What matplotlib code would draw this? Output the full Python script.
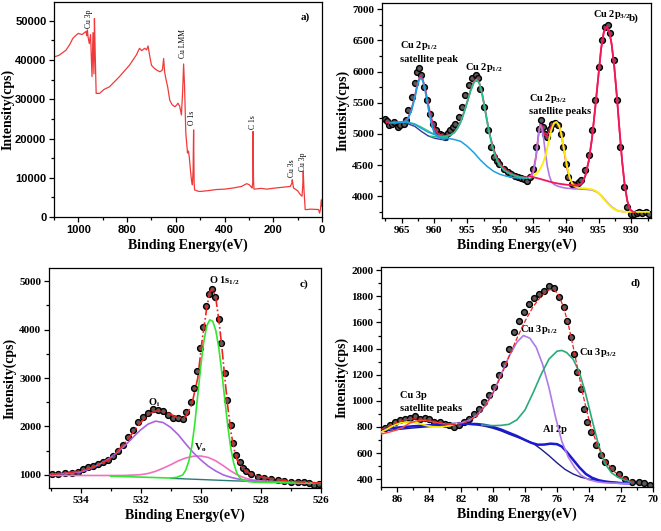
import matplotlib
matplotlib.use('Agg')
import matplotlib.pyplot as plt
from matplotlib.ticker import MultipleLocator

plt.rcParams['font.family'] = ['Liberation Serif', 'DejaVu Serif']
plt.rcParams['font.weight'] = 'bold'
plt.rcParams['mathtext.fontset'] = 'custom'
plt.rcParams['mathtext.rm'] = 'Liberation Serif:bold'
plt.rcParams['mathtext.it'] = 'Liberation Serif:bold'
plt.rcParams['mathtext.bf'] = 'Liberation Serif:bold'

# ---- a) survey spectrum ----
survey_be = [1100, 1080, 1051, 1035, 1023, 1010, 1000, 985, 975, 968, 966, 963, 960, 955, 950, 944,
             940, 936, 934, 931, 927, 913, 895, 872, 850, 831, 810, 790, 775, 762, 749, 740,
             728, 720, 714, 707, 700, 690, 680, 665, 655, 650, 646, 641, 633, 625, 615, 604,
             597, 591, 584, 577, 572, 568, 564, 559, 552, 548, 545, 540, 536, 532, 529, 527,
             525, 523, 510, 501, 470, 433, 400, 364, 330, 309, 298, 290, 287, 284, 283, 281,
             279, 250, 227, 190, 158, 130, 124, 122, 119, 117, 100, 89, 82, 79, 77, 74,
             69, 60, 48, 30, 14, 10, 6, 3, 0]
survey_counts = [40800, 41200, 42500, 44000, 45500, 46300, 46800, 46500, 47000, 47300, 46200, 47700, 45800, 44200, 46500, 35800,
                 47000, 36500, 50600, 42000, 31500, 31500, 32500, 33200, 34600, 35800, 37300, 38700, 40100, 41300, 43000, 42400,
                 43000, 42600, 43600, 41000, 38700, 38000, 37500, 37000, 37500, 40400, 37000, 35300, 33000, 29800, 28600, 28100,
                 28500, 29000, 28200, 26000, 32000, 39000, 33000, 21400, 16300, 16800, 15400, 12000, 9500, 8200, 12000, 22200,
                 9000, 6900, 6600, 6500, 6700, 7000, 7100, 7400, 7800, 8500, 8200, 7600, 7400, 9000, 21800, 9000,
                 7100, 7300, 7100, 7400, 7600, 7800, 8600, 9500, 8200, 7400, 6700, 5700, 5300, 8000, 11600, 7000,
                 1900, 1900, 2000, 1950, 1900, 1000, 2000, 4400, 2700]

# ---- b) Cu 2p ----
cu2p_be = [967.5, 967.2, 966.9, 966.5, 966.1, 965.6, 965.2, 964.7, 964.3, 964.0, 963.5, 963.0, 962.6, 962.3, 962.0,
           961.6, 961.2, 960.7, 960.2, 959.7, 959.2, 958.9, 958.4, 958.0, 957.6, 957.2, 956.8, 956.3, 955.8, 955.3,
           954.8, 954.3, 953.7, 953.4, 953.0, 952.5, 951.9, 951.4, 950.9, 950.5, 950.1, 949.4, 948.8, 948.3, 947.8,
           947.3, 946.8, 946.3, 945.9, 945.5, 945.0, 944.5, 944.1, 943.8, 943.5, 943.1, 942.8, 942.4, 942.1, 941.7,
           941.2, 940.7, 940.4, 940.0, 939.6, 939.1, 938.7, 938.3, 937.9, 937.6, 937.0, 936.5, 936.0, 935.5, 935.0,
           934.5, 934.0, 933.6, 933.2, 932.7, 932.2, 931.7, 931.1, 930.6, 930.1, 929.6, 929.2, 928.8, 928.3, 927.8,
           927.3]
cu2p_counts = [5245, 5200, 5138, 5165, 5190, 5110, 5140, 5165, 5218, 5380, 5594, 5810, 5996, 6050, 5943,
               5755, 5540, 5326, 5165, 5057, 5000, 4977, 4950, 5010, 5057, 5110, 5165, 5272, 5433, 5620,
               5782, 5889, 5943, 5889, 5728, 5433, 5057, 4789, 4628, 4560, 4520, 4440, 4390, 4360, 4320,
               4306, 4290, 4279, 4250, 4306, 4440, 4789, 5084, 5218, 5110, 5004, 4950, 5084, 5165, 5175,
               5138, 5004, 4789, 4520, 4306, 4199, 4180, 4199, 4230, 4252, 4413, 4655, 5057, 5540, 6077,
               6506, 6721, 6748, 6614, 6184, 5540, 4789, 4145, 3823, 3716, 3716, 3730, 3742, 3730, 3742,
               3716]

env_b_be = [967.3, 965.0, 964.5, 964.0, 963.5, 963.0, 962.6, 962.2, 961.8, 961.4, 961.0, 960.5, 960.0, 959.5,
            959.0, 958.5, 958.0, 957.5, 957.0, 956.5, 956.0, 955.5, 955.0, 954.5, 954.0, 953.6, 953.2, 952.8,
            952.4, 952.0, 951.5, 951.0, 950.5, 950.0, 949.0, 948.0, 947.0, 946.0, 945.5, 945.0, 944.5, 944.2,
            943.9, 943.6, 943.3, 943.0, 942.6, 942.2, 941.8, 941.4, 941.0, 940.6, 940.2, 939.8, 939.4, 939.0,
            938.5, 938.0, 937.5, 937.0, 936.5, 936.0, 935.5, 935.0, 934.6, 934.2, 933.8, 933.4, 933.0, 932.6,
            932.2, 931.8, 931.4, 931.0, 930.6, 930.2, 929.8, 929.4]
env_b_counts = [5180, 5185, 5200, 5260, 5400, 5600, 5800, 5930, 5880, 5720, 5500, 5260, 5090, 5010,
                4975, 4970, 4975, 4990, 5020, 5090, 5200, 5350, 5520, 5700, 5840, 5880, 5830, 5680,
                5460, 5220, 4960, 4760, 4620, 4520, 4410, 4350, 4310, 4300, 4310, 4380, 4650, 4950,
                5150, 5120, 5000, 4960, 5020, 5120, 5180, 5190, 5130, 4960, 4700, 4450, 4290, 4210,
                4180, 4175, 4210, 4330, 4560, 4920, 5420, 5950, 6370, 6630, 6720, 6660, 6440, 6080,
                5600, 5060, 4560, 4170, 3920, 3790, 3750, 3745]

bg_b_be = [966.8, 965.0, 964.0, 963.0, 962.0, 961.0, 960.0, 959.0, 958.0, 957.0, 956.0, 955.0, 954.0, 953.0,
           952.0, 951.0, 950.0, 949.0, 948.0, 947.0, 946.0, 945.5]
bg_b_counts = [5180, 5185, 5185, 5150, 5090, 5030, 4990, 4960, 4930, 4910, 4880, 4800, 4700, 4580,
               4480, 4400, 4350, 4320, 4300, 4290, 4290, 4290]
bg_b2_be = [964.5, 964.0, 963.0, 962.0, 961.0, 960.0, 959.0, 958.5, 958.0]
bg_b2_counts = [5190, 5188, 5160, 5110, 5050, 4990, 4950, 4940, 4935]
bg_b3_be = [964.5, 963.0, 962.0, 961.0, 960.0, 959.0, 958.0]
bg_b3_counts = [5180, 5120, 5040, 4970, 4930, 4910, 4900]

sat1_be = [966.8, 965.5, 964.5, 964.0, 963.5, 963.0, 962.7, 962.4, 962.1, 961.8, 961.5, 961.2, 960.9, 960.6,
           960.3, 960.0, 959.5, 959.0, 958.5]
sat1_counts = [5180, 5185, 5200, 5250, 5380, 5580, 5730, 5850, 5900, 5860, 5740, 5570, 5390, 5230,
               5100, 5020, 4960, 4930, 4915]

p12_be = [960.5, 959.5, 958.5, 958.0, 957.5, 957.0, 956.5, 956.0, 955.5, 955.0, 954.5, 954.0, 953.6, 953.2,
          952.8, 952.4, 952.0, 951.6, 951.2, 950.8, 950.4, 950.0, 949.5, 949.0, 948.5, 948.0, 947.5, 947.0,
          946.5, 946.0]
p12_counts = [4960, 4950, 4955, 4965, 4985, 5020, 5090, 5190, 5340, 5510, 5690, 5820, 5870, 5820,
              5670, 5450, 5210, 4990, 4800, 4660, 4560, 4490, 4430, 4390, 4360, 4340, 4320, 4305,
              4300, 4295]

sat2_be = [945.5, 945.0, 944.7, 944.4, 944.1, 943.9, 943.7, 943.4, 943.1, 942.8, 942.5, 942.2, 941.8, 941.2,
           940.5, 940.0, 939.0, 938.0, 937.0, 936.0, 935.5, 935.0, 934.5, 934.0, 933.5, 933.0, 932.5, 932.0,
           931.5, 931.0]
sat2_counts = [4310, 4360, 4500, 4750, 5020, 5140, 5110, 4950, 4700, 4480, 4330, 4240, 4190, 4160,
               4140, 4130, 4120, 4115, 4110, 4100, 4080, 4050, 4000, 3940, 3880, 3830, 3790, 3765,
               3755, 3750]

sat3_be = [945.5, 945.0, 944.5, 944.0, 943.5, 943.0, 942.6, 942.2, 941.8, 941.4, 941.0, 940.6, 940.2, 939.8,
           939.4, 939.0, 938.5, 938.0, 937.0, 936.0, 935.5, 935.0, 934.5, 934.0, 933.5, 933.0, 932.5, 932.0,
           931.5, 931.0, 930.0, 929.0, 928.0, 927.3]
sat3_counts = [4300, 4320, 4360, 4420, 4520, 4680, 4880, 5060, 5170, 5190, 5130, 4960, 4720, 4480,
               4300, 4200, 4150, 4135, 4125, 4110, 4090, 4050, 3995, 3930, 3870, 3820, 3785, 3765,
               3755, 3750, 3748, 3748, 3748, 3748]

p32_be = [945.5, 944.0, 943.0, 942.0, 941.0, 940.0, 939.0, 938.3, 937.8, 937.4, 937.0, 936.5, 936.0, 935.5,
          935.0, 934.6, 934.2, 933.8, 933.4, 933.0, 932.6, 932.2, 931.8, 931.4, 931.0, 930.6, 930.2, 929.8,
          929.4]
p32_counts = [4320, 4280, 4250, 4220, 4200, 4185, 4175, 4170, 4185, 4230, 4330, 4560, 4920, 5420,
              5950, 6370, 6630, 6720, 6660, 6440, 6080, 5600, 5060, 4560, 4170, 3920, 3790, 3750,
              3745]

# ---- c) O 1s ----
o1s_be = [534.96, 534.74, 534.52, 534.30, 534.08, 533.91, 533.75, 533.58, 533.41, 533.25, 533.08, 532.92,
          532.75, 532.58, 532.42, 532.25, 532.09, 531.92, 531.75, 531.59, 531.42, 531.26, 531.09, 530.92,
          530.76, 530.59, 530.48, 530.32, 530.21, 530.12, 530.04, 529.93, 529.82, 529.71, 529.62, 529.52,
          529.41, 529.32, 529.21, 529.12, 529.01, 528.93, 528.82, 528.71, 528.60, 528.49, 528.32, 528.10,
          527.88, 527.66, 527.44, 527.22, 527.00, 526.78, 526.56, 526.39, 526.22, 526.06]
o1s_counts = [1014, 1021, 1041, 1034, 1055, 1123, 1172, 1185, 1220, 1261, 1309, 1398,
              1494, 1617, 1789, 1926, 2098, 2201, 2269, 2358, 2338, 2324, 2235, 2180,
              2166, 2153, 2304, 2509, 2784, 3141, 3621, 4046, 4479, 4739, 4828, 4671,
              4225, 3731, 3093, 2544, 2029, 1652, 1412, 1274, 1151, 1082, 1014, 966,
              931, 918, 897, 877, 863, 849, 849, 828, 794, 808]

env_c_be = [535.0, 534.5, 534.0, 533.5, 533.0, 532.5, 532.0, 531.75, 531.5, 531.25, 531.0, 530.75, 530.5,
            530.3, 530.1, 529.95, 529.8, 529.7, 529.6, 529.5, 529.4, 529.3, 529.2, 529.1, 529.0, 528.9,
            528.8, 528.6, 528.4, 528.0, 527.5, 527.0, 526.5, 526.0]
env_c_counts = [1010, 1040, 1080, 1180, 1330, 1680, 2080, 2250, 2320, 2310, 2250, 2170, 2200,
                2450, 3000, 3800, 4450, 4780, 4830, 4650, 4200, 3650, 3000, 2400, 1900, 1550,
                1320, 1130, 1040, 960, 910, 870, 850, 830]

olat_be = [533.0, 532.5, 532.0, 531.5, 531.0, 530.8, 530.6, 530.5, 530.4, 530.3, 530.2, 530.1, 530.0, 529.9,
           529.8, 529.7, 529.6, 529.5, 529.4, 529.3, 529.2, 529.1, 529.0, 528.9, 528.8, 528.7, 528.6, 528.4,
           528.2, 528.0, 527.5, 527.0, 526.5, 526.0]
olat_counts = [975, 965, 955, 945, 935, 950, 1000, 1100, 1280, 1580, 2050, 2650, 3250, 3750,
               4080, 4200, 4170, 3980, 3620, 3120, 2550, 2000, 1550, 1230, 1040, 940, 890, 860,
               850, 845, 840, 835, 830, 825]

base_c_be = [531.0, 530.0, 529.0, 528.0, 527.0, 526.0]
base_c_counts = [930, 905, 880, 860, 845, 835]

oi_be = [535.0, 534.5, 534.0, 533.75, 533.5, 533.25, 533.0, 532.75, 532.5, 532.25, 532.0, 531.75, 531.5,
         531.25, 531.0, 530.75, 530.5, 530.25, 530.0, 529.75, 529.5, 529.25, 529.0, 528.75, 528.5, 528.0,
         527.5, 527.0, 526.5, 526.0]
oi_counts = [1010, 1030, 1060, 1110, 1180, 1260, 1360, 1480, 1620, 1780, 1930, 2050, 2110,
             2080, 1980, 1830, 1640, 1460, 1310, 1180, 1080, 1000, 950, 915, 890, 865,
             855, 845, 835, 828]

vo_be = [535.0, 534.0, 533.0, 532.5, 532.0, 531.75, 531.5, 531.25, 531.0, 530.75, 530.5, 530.25, 530.0,
         529.75, 529.5, 529.25, 529.0, 528.75, 528.5, 528.25, 528.0, 527.5, 527.0, 526.5, 526.0]
vo_counts = [990, 988, 988, 990, 1005, 1030, 1075, 1140, 1210, 1290, 1350, 1385, 1390,
             1360, 1290, 1190, 1080, 990, 930, 895, 875, 860, 850, 840, 832]

# ---- d) Cu 3p ----
cu3p_be = [86.77, 86.46, 86.15, 85.83, 85.52, 85.21, 84.90, 84.59, 84.28, 83.97, 83.66, 83.34, 83.03,
           82.72, 82.41, 82.10, 81.79, 81.48, 81.17, 80.85, 80.54, 80.23, 79.92, 79.61, 79.30, 78.99,
           78.68, 78.37, 78.05, 77.74, 77.43, 77.12, 76.81, 76.50, 76.19, 75.88, 75.56, 75.36, 75.15,
           74.94, 74.73, 74.53, 74.32, 74.11, 73.90, 73.59, 73.28, 72.97, 72.56, 72.14, 71.73, 71.31,
           70.90, 70.58, 70.17]
cu3p_counts = [792, 813, 838, 851, 864, 869, 884, 859, 869, 859, 838, 838, 826,
               813, 800, 818, 838, 864, 902, 940, 991, 1042, 1106, 1195, 1284, 1399,
               1526, 1615, 1679, 1743, 1786, 1819, 1845, 1878, 1863, 1794, 1717, 1615, 1488,
               1361, 1220, 1093, 940, 838, 762, 660, 583, 532, 482, 443, 405, 380,
               375, 367, 354]

env_d_be = [87.0, 86.5, 86.0, 85.5, 85.0, 84.5, 84.0, 83.5, 83.0, 82.5, 82.0, 81.5, 81.0, 80.5, 80.0,
            79.5, 79.0, 78.5, 78.0, 77.5, 77.0, 76.5, 76.2, 75.9, 75.6, 75.3, 75.0, 74.7, 74.4, 74.1,
            73.8, 73.5, 73.2, 72.9, 72.6, 72.3, 72.0, 71.7, 71.4, 71.1]
env_d_counts = [780, 810, 835, 855, 862, 860, 850, 838, 825, 818, 825, 845, 885, 960, 1060,
                1190, 1340, 1480, 1610, 1720, 1800, 1850, 1855, 1810, 1720, 1590, 1420, 1240, 1060, 900,
                770, 670, 590, 530, 480, 445, 420, 400, 385, 375]

p12d_be = [82.5, 82.0, 81.5, 81.0, 80.5, 80.0, 79.5, 79.0, 78.5, 78.1, 77.7, 77.3, 76.9, 76.5, 76.1,
           75.7, 75.3, 74.9, 74.5, 74.0, 73.5, 73.0, 72.0, 71.5]
p12d_counts = [825, 830, 850, 890, 960, 1060, 1200, 1340, 1450, 1500, 1480, 1410, 1280, 1100, 880,
               690, 570, 490, 430, 395, 380, 372, 368, 367]

p32d_be = [80.7, 80.0, 79.5, 79.0, 78.5, 78.0, 77.5, 77.0, 76.5, 76.0, 75.7, 75.4, 75.0, 74.6, 74.2,
           73.8, 73.4, 73.0, 72.6, 72.2, 71.8, 71.4]
p32d_counts = [815, 810, 812, 820, 855, 930, 1060, 1200, 1320, 1380, 1386, 1370, 1320, 1220, 1050,
               850, 660, 520, 450, 415, 395, 380]

al2p_be = [86.8, 86.0, 85.0, 84.0, 83.0, 82.0, 81.0, 80.5, 80.0, 79.5, 79.0, 78.5, 78.0, 77.6, 77.2,
           76.8, 76.4, 76.0, 75.7, 75.4, 75.0, 74.6, 74.2, 73.8, 73.4, 73.0, 72.5, 72.0, 71.5]
al2p_counts = [785, 795, 805, 813, 820, 825, 822, 815, 800, 780, 755, 730, 700, 678, 664,
               665, 672, 668, 650, 610, 550, 490, 440, 410, 392, 382, 375, 370, 368]

bg_d_be = [86.8, 86.0, 85.0, 84.0, 83.0, 82.0, 81.5, 81.0, 80.5, 80.0, 79.5, 79.0, 78.5, 78.0, 77.5,
           77.0, 76.5, 76.0, 75.5, 75.0, 74.5, 74.0, 73.5, 73.0, 72.0, 71.5]
bg_d_counts = [770, 780, 792, 802, 812, 820, 820, 815, 805, 790, 770, 745, 722, 700, 675,
               630, 580, 525, 475, 440, 415, 400, 390, 382, 372, 370]

sat_y_be = [87.0, 86.6, 86.2, 85.8, 85.4, 85.0, 84.6, 84.2, 83.8, 83.4, 83.0, 82.6, 82.3]
sat_y_counts = [760, 785, 812, 830, 838, 835, 826, 812, 802, 800, 803, 812, 825]
sat_r_be = [87.0, 86.5, 86.0, 85.6, 85.2, 84.8, 84.4, 84.0, 83.6, 83.2, 82.8, 82.4]
sat_r_counts = [745, 760, 778, 800, 830, 845, 850, 846, 835, 826, 822, 822]

W, H = 661, 531
fig = plt.figure(figsize=(W / 100, H / 100), dpi=100)


def make_ax(left, top, right, bottom, ypad=2):
    ax = fig.add_axes([left / W, 1 - bottom / H, (right - left) / W, (bottom - top) / H])
    for s in ax.spines.values():
        s.set_linewidth(0.9)
    ax.tick_params(which='both', direction='out', top=False, right=False, width=0.9, labelsize=8, pad=2)
    ax.tick_params(which='major', length=3.5)
    ax.tick_params(which='minor', length=2)
    ax.set_xlabel('Binding Energy(eV)', fontsize=10, fontweight='bold', labelpad=3)
    ax.set_ylabel('Intensity(cps)', fontsize=10, fontweight='bold', labelpad=ypad)
    return ax


def points(ax, x, y):
    ax.plot(x, y, 'o', ms=4.2, mfc='#5a5a5a', mec='black', mew=1.0, zorder=2)


# a)
ax = make_ax(54, 2, 322, 217, ypad=0.5)
ax.plot(survey_be, survey_counts, color='#f03a3a', lw=0.9)
ax.set_xlim(1100, 0)
ax.set_ylim(0, 54800)
ax.xaxis.set_major_locator(MultipleLocator(200))
ax.xaxis.set_minor_locator(MultipleLocator(100))
ax.yaxis.set_major_locator(MultipleLocator(10000))
ax.yaxis.set_minor_locator(MultipleLocator(5000))
for lab in ax.get_xticklabels() + ax.get_yticklabels():
    lab.set_family('Liberation Sans')
    lab.set_fontsize(8)
ann = dict(rotation=90, ha='center', va='bottom', fontsize=5.5, fontweight='normal')
ax.text(957, 48300, 'Cu 3p', **ann)
ax.text(569, 40500, 'Cu LMM', **ann)
ax.text(532, 23500, 'O 1s', **ann)
ax.text(285, 22400, 'C 1s', **ann)
ax.text(124, 10200, 'Cu 3s', **ann)
ax.text(78, 11600, 'Cu 3p', **ann)
ax.text(0.955, 0.95, 'a)', transform=ax.transAxes, ha='right', va='top', fontsize=8)

# b)
ax = make_ax(382, 3, 651, 218)
points(ax, cu2p_be, cu2p_counts)
ax.plot(env_b_be, env_b_counts, color='#f0185a', lw=1.2, zorder=3)
ax.plot(bg_b3_be, bg_b3_counts, color='#303a9a', lw=1.0, zorder=3)
ax.plot(bg_b2_be, bg_b2_counts, color='#3cd070', lw=1.0, zorder=3)
ax.plot(bg_b_be, bg_b_counts, color='#1ea0e0', lw=1.1, zorder=3)
ax.plot(p12_be, p12_counts, color='#27c08a', lw=1.3, zorder=4)
ax.plot(sat1_be, sat1_counts, color='#1e9ee0', lw=1.3, zorder=4)
ax.plot(sat2_be, sat2_counts, color='#b27ae8', lw=1.2, zorder=4)
ax.plot(sat3_be, sat3_counts, color='#ffee00', lw=1.3, zorder=4)
ax.plot(p32_be, p32_counts, color='#f0185a', lw=1.3, zorder=5)
ax.set_xlim(968, 927)
ax.set_ylim(3650, 7100)
ax.xaxis.set_major_locator(MultipleLocator(5))
ax.xaxis.set_minor_locator(MultipleLocator(2.5))
ax.yaxis.set_major_locator(MultipleLocator(500))
ax.yaxis.set_minor_locator(MultipleLocator(250))
ax.text(935.9, 6870, r'Cu 2p$_{\mathrm{3/2}}$', fontsize=7.5)
ax.text(955.3, 6020, r'Cu 2p$_{\mathrm{1/2}}$', fontsize=7.5)
ax.text(965.3, 6380, r'Cu 2p$_{\mathrm{1/2}}$', fontsize=7.5)
ax.text(965.3, 6160, 'satellite peak', fontsize=7.5)
ax.text(945.6, 5530, r'Cu 2p$_{\mathrm{3/2}}$', fontsize=7.5)
ax.text(945.6, 5320, 'satellite peaks', fontsize=7.5)
ax.text(0.955, 0.95, 'b)', transform=ax.transAxes, ha='right', va='top', fontsize=8)

# c)
ax = make_ax(49, 268, 321, 488)
points(ax, o1s_be, o1s_counts)
ax.plot(base_c_be, base_c_counts, color='#2a7a7a', lw=1.0, zorder=3)
ax.plot(vo_be, vo_counts, color='#f070c0', lw=1.2, zorder=3)
ax.plot(oi_be, oi_counts, color='#a865e0', lw=1.2, zorder=3)
ax.plot(olat_be, olat_counts, color='#33e633', lw=1.2, zorder=3)
ax.plot(env_c_be, env_c_counts, color='#ee2222', lw=1.2, ls='-.', zorder=4)
ax.set_xlim(535.05, 526)
ax.set_ylim(730, 5270)
ax.xaxis.set_major_locator(MultipleLocator(2))
ax.xaxis.set_minor_locator(MultipleLocator(1))
ax.yaxis.set_major_locator(MultipleLocator(1000))
ax.yaxis.set_minor_locator(MultipleLocator(500))
ax.text(529.2, 4960, r'O 1s$_{\mathrm{1/2}}$', fontsize=7.5, ha='center')
ax.text(531.55, 2430, r'O$_{\mathrm{i}}$', fontsize=7.5, ha='center')
ax.text(530.0, 1500, r'V$_{\mathrm{o}}$', fontsize=7.5, ha='center')
ax.text(0.955, 0.95, 'c)', transform=ax.transAxes, ha='right', va='top', fontsize=8)

# d)
ax = make_ax(381, 267, 653, 487)
points(ax, cu3p_be, cu3p_counts)
ax.plot(bg_d_be, bg_d_counts, color='#1c1c8c', lw=1.0, zorder=3)
ax.plot(al2p_be, al2p_counts, color='#1a1ad0', lw=1.8, zorder=3)
ax.plot(p12d_be, p12d_counts, color='#b07ae8', lw=1.2, zorder=4)
ax.plot(p32d_be, p32d_counts, color='#2aaa78', lw=1.2, zorder=4)
ax.plot(sat_y_be, sat_y_counts, color='#f5e800', lw=1.3, zorder=4)
ax.plot(sat_r_be, sat_r_counts, color='#ff4a3a', lw=1.1, zorder=4)
ax.plot(env_d_be, env_d_counts, color='#ee2222', lw=0.9, ls='--', zorder=5)
ax.set_xlim(87, 70)
ax.set_ylim(340, 2025)
ax.xaxis.set_major_locator(MultipleLocator(2))
ax.xaxis.set_minor_locator(MultipleLocator(1))
ax.yaxis.set_major_locator(MultipleLocator(200))
ax.yaxis.set_minor_locator(MultipleLocator(100))
ax.text(78.3, 1530, r'Cu 3p$_{\mathrm{1/2}}$', fontsize=7.5)
ax.text(74.6, 1350, r'Cu 3p$_{\mathrm{3/2}}$', fontsize=7.5)
ax.text(76.9, 760, 'Al 2p', fontsize=7.5)
ax.text(85.8, 1020, 'Cu 3p', fontsize=7.5)
ax.text(85.8, 920, 'satellite peaks', fontsize=7.5)
ax.text(0.955, 0.95, 'd)', transform=ax.transAxes, ha='right', va='top', fontsize=8)

fig.savefig('out.png', dpi=100)
